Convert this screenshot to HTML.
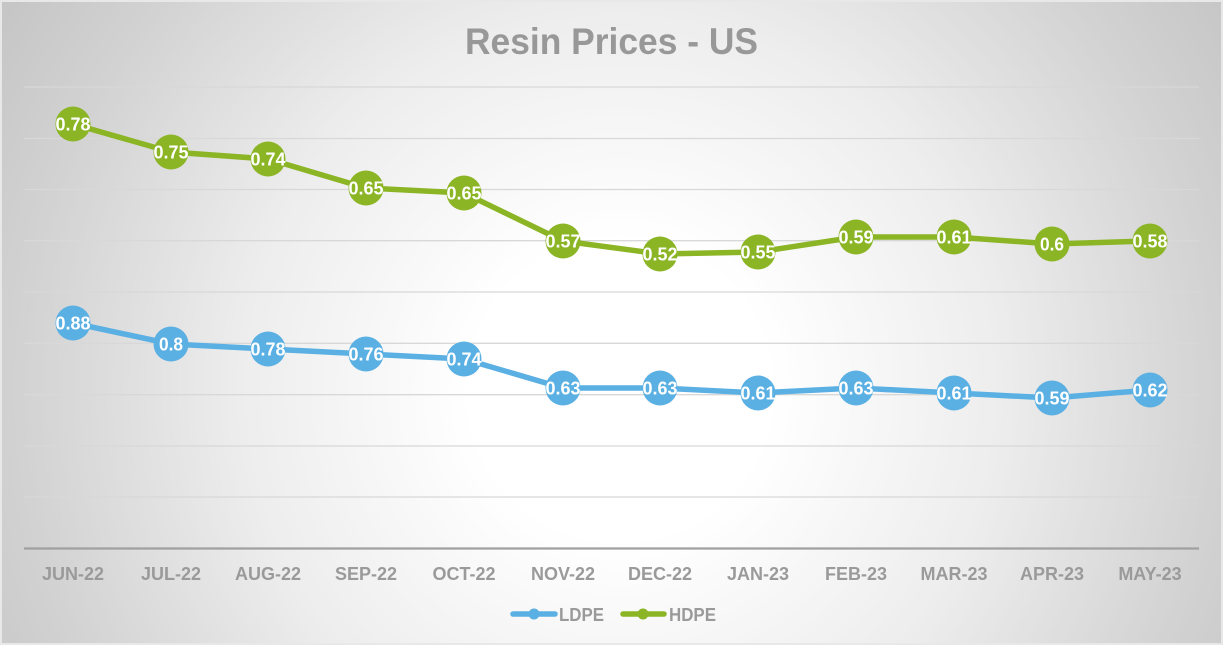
<!DOCTYPE html>
<html>
<head>
<meta charset="utf-8">
<style>
  html, body { margin:0; padding:0; }
  body { width:1223px; height:645px; overflow:hidden; }
  .bg {
    position:absolute; left:0; top:0; width:1223px; height:645px;
    background: radial-gradient(circle at 620px 390px, #ffffff 0px, #ffffff 150px, #ededed 380px, #d2d2d2 600px, #c4c4c4 740px);
  }
  svg { position:absolute; left:0; top:0; }
  text { font-family: "Liberation Sans", sans-serif; font-weight: bold; }
</style>
</head>
<body>
<div class="bg"></div>
<svg width="1223" height="645" viewBox="0 0 1223 645" xmlns="http://www.w3.org/2000/svg">
  <rect x="1" y="1" width="1221" height="643" fill="none" stroke="#e8e8e8" stroke-width="2"/>
  <!-- title -->
  <text x="611.5" y="54" font-size="37" fill="#989898" text-anchor="middle" textLength="293" lengthAdjust="spacingAndGlyphs">Resin Prices - US</text>

  <!-- gridlines -->
  <g stroke="#d8d8d8" stroke-width="1.3">
    <line x1="24" y1="87" x2="1199" y2="87"/>
    <line x1="24" y1="138.5" x2="1199" y2="138.5"/>
    <line x1="24" y1="189.5" x2="1199" y2="189.5"/>
    <line x1="24" y1="240.7" x2="1199" y2="240.7"/>
    <line x1="24" y1="292" x2="1199" y2="292"/>
    <line x1="24" y1="343.3" x2="1199" y2="343.3"/>
    <line x1="24" y1="394.7" x2="1199" y2="394.7"/>
    <line x1="24" y1="446" x2="1199" y2="446"/>
    <line x1="24" y1="497" x2="1199" y2="497"/>
  </g>
  <line x1="24" y1="548.5" x2="1199" y2="548.5" stroke="#a0a0a0" stroke-width="2.2"/>

  <!-- HDPE -->
  <polyline fill="none" stroke="#8bb524" stroke-width="5.5" stroke-linejoin="round"
    points="73,124 171,152 268,159 366,188 464,193 563,241 660,254 758,252 856,237 954,237 1052,244 1150,241"/>
  <g fill="#8bb524">
    <circle cx="73" cy="124" r="17.5"/>
    <circle cx="171" cy="152" r="17.5"/>
    <circle cx="268" cy="159" r="17.5"/>
    <circle cx="366" cy="188" r="17.5"/>
    <circle cx="464" cy="193" r="17.5"/>
    <circle cx="563" cy="241" r="17.5"/>
    <circle cx="660" cy="254" r="17.5"/>
    <circle cx="758" cy="252" r="17.5"/>
    <circle cx="856" cy="237" r="17.5"/>
    <circle cx="954" cy="237" r="17.5"/>
    <circle cx="1052" cy="244" r="17.5"/>
    <circle cx="1150" cy="241" r="17.5"/>
  </g>

  <!-- LDPE -->
  <polyline fill="none" stroke="#5aafe3" stroke-width="5.5" stroke-linejoin="round"
    points="73,323 171,344 268,349 366,354 464,359 563,388 660,388 758,393 856,388 954,393 1052,398 1150,390"/>
  <g fill="#5aafe3">
    <circle cx="73" cy="323" r="17.5"/>
    <circle cx="171" cy="344" r="17.5"/>
    <circle cx="268" cy="349" r="17.5"/>
    <circle cx="366" cy="354" r="17.5"/>
    <circle cx="464" cy="359" r="17.5"/>
    <circle cx="563" cy="388" r="17.5"/>
    <circle cx="660" cy="388" r="17.5"/>
    <circle cx="758" cy="393" r="17.5"/>
    <circle cx="856" cy="388" r="17.5"/>
    <circle cx="954" cy="393" r="17.5"/>
    <circle cx="1052" cy="398" r="17.5"/>
    <circle cx="1150" cy="390" r="17.5"/>
  </g>

  <!-- data labels -->
  <g fill="#ffffff" font-size="18" text-anchor="middle">
    <text x="73" y="130.5" textLength="35" lengthAdjust="spacingAndGlyphs">0.78</text>
    <text x="171" y="158.5" textLength="35" lengthAdjust="spacingAndGlyphs">0.75</text>
    <text x="268" y="165.5" textLength="35" lengthAdjust="spacingAndGlyphs">0.74</text>
    <text x="366" y="194.5" textLength="35" lengthAdjust="spacingAndGlyphs">0.65</text>
    <text x="464" y="199.5" textLength="35" lengthAdjust="spacingAndGlyphs">0.65</text>
    <text x="563" y="247.5" textLength="35" lengthAdjust="spacingAndGlyphs">0.57</text>
    <text x="660" y="260.5" textLength="35" lengthAdjust="spacingAndGlyphs">0.52</text>
    <text x="758" y="258.5" textLength="35" lengthAdjust="spacingAndGlyphs">0.55</text>
    <text x="856" y="243.5" textLength="35" lengthAdjust="spacingAndGlyphs">0.59</text>
    <text x="954" y="243.5" textLength="35" lengthAdjust="spacingAndGlyphs">0.61</text>
    <text x="1052" y="250.5" textLength="24" lengthAdjust="spacingAndGlyphs">0.6</text>
    <text x="1150" y="247.5" textLength="35" lengthAdjust="spacingAndGlyphs">0.58</text>

    <text x="73" y="329.5" textLength="35" lengthAdjust="spacingAndGlyphs">0.88</text>
    <text x="171" y="350.5" textLength="24" lengthAdjust="spacingAndGlyphs">0.8</text>
    <text x="268" y="355.5" textLength="35" lengthAdjust="spacingAndGlyphs">0.78</text>
    <text x="366" y="360.5" textLength="35" lengthAdjust="spacingAndGlyphs">0.76</text>
    <text x="464" y="365.5" textLength="35" lengthAdjust="spacingAndGlyphs">0.74</text>
    <text x="563" y="394.5" textLength="35" lengthAdjust="spacingAndGlyphs">0.63</text>
    <text x="660" y="394.5" textLength="35" lengthAdjust="spacingAndGlyphs">0.63</text>
    <text x="758" y="399.5" textLength="35" lengthAdjust="spacingAndGlyphs">0.61</text>
    <text x="856" y="394.5" textLength="35" lengthAdjust="spacingAndGlyphs">0.63</text>
    <text x="954" y="399.5" textLength="35" lengthAdjust="spacingAndGlyphs">0.61</text>
    <text x="1052" y="404.5" textLength="35" lengthAdjust="spacingAndGlyphs">0.59</text>
    <text x="1150" y="396.5" textLength="35" lengthAdjust="spacingAndGlyphs">0.62</text>
  </g>

  <!-- x axis labels -->
  <g fill="#9a9a9a" font-size="18" text-anchor="middle">
    <text x="73" y="580">JUN-22</text>
    <text x="171" y="580">JUL-22</text>
    <text x="268" y="580">AUG-22</text>
    <text x="366" y="580">SEP-22</text>
    <text x="464" y="580">OCT-22</text>
    <text x="563" y="580">NOV-22</text>
    <text x="660" y="580">DEC-22</text>
    <text x="758" y="580">JAN-23</text>
    <text x="856" y="580">FEB-23</text>
    <text x="954" y="580">MAR-23</text>
    <text x="1052" y="580">APR-23</text>
    <text x="1150" y="580">MAY-23</text>
  </g>

  <!-- legend -->
  <line x1="513" y1="614" x2="555" y2="614" stroke="#5aafe3" stroke-width="5.5" stroke-linecap="round"/>
  <circle cx="534" cy="614" r="5.5" fill="#5aafe3"/>
  <text x="559" y="621" font-size="18" fill="#9a9a9a" textLength="45" lengthAdjust="spacingAndGlyphs">LDPE</text>
  <line x1="623" y1="614" x2="664" y2="614" stroke="#8bb524" stroke-width="5.5" stroke-linecap="round"/>
  <circle cx="643" cy="614" r="5.5" fill="#8bb524"/>
  <text x="669" y="621" font-size="18" fill="#9a9a9a" textLength="47" lengthAdjust="spacingAndGlyphs">HDPE</text>
</svg>
</body>
</html>
